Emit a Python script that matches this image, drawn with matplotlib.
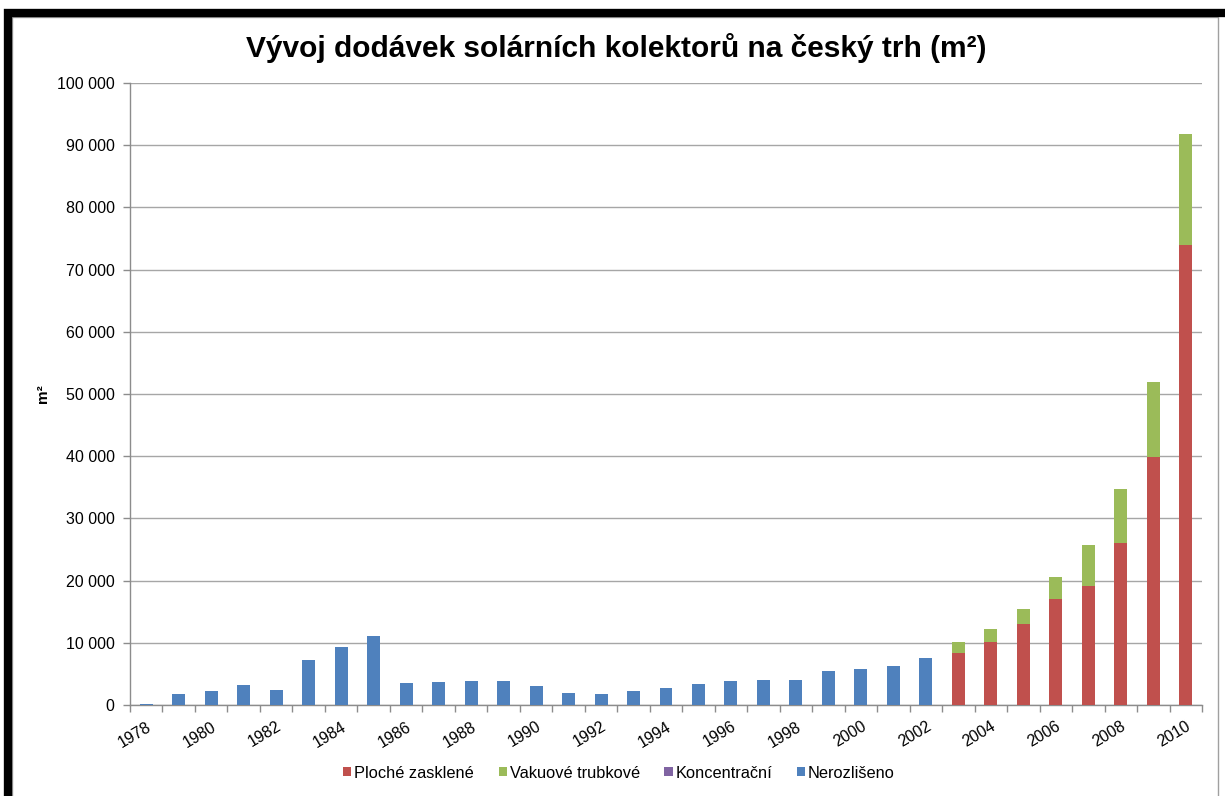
import matplotlib
matplotlib.use("Agg")
import matplotlib.pyplot as plt
from matplotlib.patches import Rectangle
from matplotlib.ticker import FuncFormatter, FixedLocator
import numpy as np

years = list(range(1978, 2011))
nerozliseno = [200, 1770, 2200, 3230, 2470, 7260, 9300, 11130, 3600, 3650, 3920,
               3820, 3060, 1990, 1770, 2260, 2800, 3330, 3820, 3980, 4030, 5430,
               5860, 6290, 7620, 0, 0, 0, 0, 0, 0, 0, 0]
ploche = [0] * 25 + [8320, 10100, 13030, 16970, 19140, 26050, 39950, 73950]
vakuove = [0] * 25 + [1840, 2070, 2430, 3620, 6590, 8600, 11940, 17790]
koncentracni = [0] * 25 + [0, 60, 0, 0, 0, 0, 60, 60]

series_names = ["Ploché zasklené", "Vakuové trubkové", "Koncentrační", "Nerozlišeno"]
colors = ["#C0504D", "#9BBB59", "#8064A2", "#4F81BD"]

plt.rcParams['font.family'] = ['Liberation Sans', 'DejaVu Sans']

fig = plt.figure(figsize=(12.25, 7.96), dpi=100)
W, H = 1225, 796
ax = fig.add_axes([130 / W, 1 - 705 / H, (1202 - 130) / W, (705 - 83) / H])

x = np.arange(len(years))
bw = 0.4
p = np.array(ploche, dtype=float)
v = np.array(vakuove, dtype=float)
k = np.array(koncentracni, dtype=float)
n = np.array(nerozliseno, dtype=float)

ax.bar(x, p, bw, color=colors[0], label=series_names[0], zorder=3)
ax.bar(x, v, bw, bottom=p, color=colors[1], label=series_names[1], zorder=3)
ax.bar(x, k, bw, bottom=p + v, color=colors[2], label=series_names[2], zorder=3)
ax.bar(x, n, bw, bottom=p + v + k, color=colors[3], label=series_names[3], zorder=3)

ax.set_xlim(-0.5, len(years) - 0.5)
ax.set_ylim(0, 100000)
ax.set_yticks(np.arange(0, 100001, 10000))
ax.yaxis.set_major_formatter(FuncFormatter(lambda val, pos: f"{int(val):,}".replace(",", " ")))
ax.grid(axis='y', color='#A6A6A6', linewidth=1.0, zorder=0)

# x ticks: labels every 2 years at category centres, tick marks at boundaries
label_pos = [i for i, yv in enumerate(years) if yv % 2 == 0]
ax.set_xticks(label_pos)
ax.set_xticklabels([str(years[i]) for i in label_pos], rotation=31, ha='right',
                   rotation_mode='anchor', fontsize=11.5)
ax.tick_params(axis='x', which='major', length=0, pad=10)
ax.xaxis.set_minor_locator(FixedLocator(np.arange(-0.5, len(years), 1.0)))
ax.tick_params(axis='x', which='minor', length=5, color='#8C8C8C', width=1)
ax.tick_params(axis='y', length=5, color='#8C8C8C', width=1, labelsize=11.5, pad=6)

for s in ['top', 'right']:
    ax.spines[s].set_visible(False)
for s in ['left', 'bottom']:
    ax.spines[s].set_color('#8C8C8C')
    ax.spines[s].set_linewidth(1.0)

ax.set_ylabel("m²", fontsize=11, fontweight='bold')
ax.yaxis.set_label_coords(-0.075, 0.5)

fig.text(616 / W, 1 - 48 / H, "Vývoj dodávek solárních kolektorů na český trh (m²)",
         ha='center', va='center', fontsize=21.5, fontweight='bold')

handles, labels = ax.get_legend_handles_labels()
fig.legend(handles, labels, loc='center', bbox_to_anchor=(619 / W, 1 - 773 / H), ncol=4,
           frameon=False, fontsize=11.8, handlelength=0.5, handleheight=0.5,
           handletextpad=0.18, columnspacing=1.5)

# outer black frame
fig.patches.append(Rectangle((8 / W, -0.05), 1.2, 1 - 13 / H + 0.05,
                             transform=fig.transFigure, fill=False,
                             edgecolor='black', linewidth=6, zorder=10))
fig.patches.append(Rectangle((12 / W, -0.05), (1218 - 12) / W, 1 - 17 / H + 0.05,
                             transform=fig.transFigure, fill=False,
                             edgecolor='#A0A0A0', linewidth=1, zorder=9))

fig.savefig("out.png", dpi=100)
